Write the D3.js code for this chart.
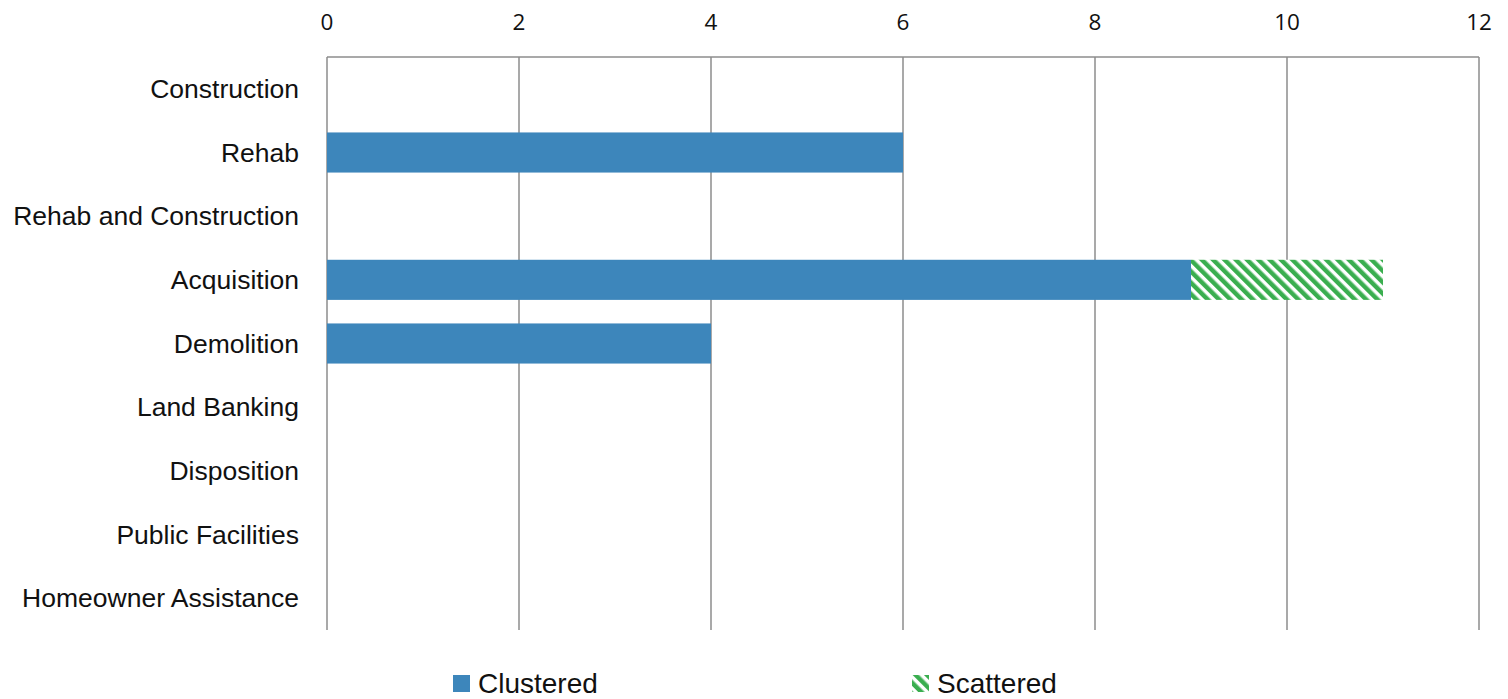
<!DOCTYPE html>
<html><head><meta charset="utf-8">
<script src="https://cdn.jsdelivr.net/npm/d3@7"></script>
<style>body{margin:0;background:#fff}svg{display:block}</style>
</head><body>
<svg id="chart" width="1508" height="699"></svg>
<script>
const categories = ["Construction","Rehab","Rehab and Construction","Acquisition","Demolition","Land Banking","Disposition","Public Facilities","Homeowner Assistance"];
const clustered = [0,6,0,9,4,0,0,0,0];
const scattered = [0,0,0,2,0,0,0,0,0];
const xTicks = [0,2,4,6,8,10,12];
const seriesNames = ["Clustered","Scattered"];

const svg = d3.select("#chart");
const m = {left:327, right:1479, top:57, bottom:630};
const x = d3.scaleLinear().domain([0,12]).range([m.left, m.right]);
const y = d3.scaleBand().domain(categories).range([m.top, m.bottom]).paddingInner(0.37).paddingOuter(0.185);

const defs = svg.append("defs");
const pat = defs.append("pattern").attr("id","hatch").attr("patternUnits","userSpaceOnUse")
  .attr("width",8).attr("height",8).attr("patternTransform","rotate(-45)");
pat.append("rect").attr("width",8).attr("height",8).attr("fill","#fff");
pat.append("rect").attr("x",0).attr("y",0).attr("width",4.5).attr("height",8).attr("fill","#3aae4f");

// gridlines
svg.append("g").selectAll("line").data(xTicks).join("line")
  .attr("x1",d=>x(d)).attr("x2",d=>x(d)).attr("y1",m.top).attr("y2",m.bottom)
  .attr("stroke","#8c8c8c").attr("stroke-width",1.5);
// top axis line
svg.append("line").attr("x1",m.left).attr("x2",m.right).attr("y1",m.top).attr("y2",m.top)
  .attr("stroke","#8c8c8c").attr("stroke-width",1.5);
// tick labels
svg.append("g").selectAll("text").data(xTicks).join("text")
  .attr("x",d=>x(d)).attr("y",30).attr("text-anchor","middle")
  .attr("font-family","'Open Sans', sans-serif").attr("font-size",22.5).attr("fill","#111")
  .text(d=>d);
// category labels
svg.append("g").selectAll("text").data(categories).join("text")
  .attr("x",299).attr("y",d=>y(d)+y.bandwidth()/2).attr("dy","0.35em").attr("text-anchor","end")
  .attr("font-family","'Liberation Sans', Arial, sans-serif").attr("font-size",26.5).attr("fill","#111")
  .text(d=>d);
// bars
svg.append("g").selectAll("rect").data(categories.map((c,i)=>({c,v:clustered[i]}))).join("rect")
  .attr("x",x(0)).attr("y",d=>y(d.c)).attr("width",d=>x(d.v)-x(0)).attr("height",y.bandwidth())
  .attr("fill","#3d86bb");
svg.append("g").selectAll("rect").data(categories.map((c,i)=>({c,s:clustered[i],v:scattered[i]}))).join("rect")
  .attr("x",d=>x(d.s)).attr("y",d=>y(d.c)).attr("width",d=>x(d.s+d.v)-x(d.s)).attr("height",y.bandwidth())
  .attr("fill","url(#hatch)");
// legend
const lg = svg.append("g");
const lx = [453, 912];
lg.append("rect").attr("x",lx[0]).attr("y",675).attr("width",17).attr("height",17).attr("fill","#3d86bb");
lg.append("rect").attr("x",lx[1]).attr("y",675).attr("width",17).attr("height",17).attr("fill","url(#hatch)");
lg.selectAll("text").data(seriesNames).join("text")
  .attr("x",(d,i)=>lx[i]+25).attr("y",693)
  .attr("font-family","'Liberation Sans', Arial, sans-serif").attr("font-size",28).attr("fill","#111")
  .text(d=>d);
</script>
</body></html>
